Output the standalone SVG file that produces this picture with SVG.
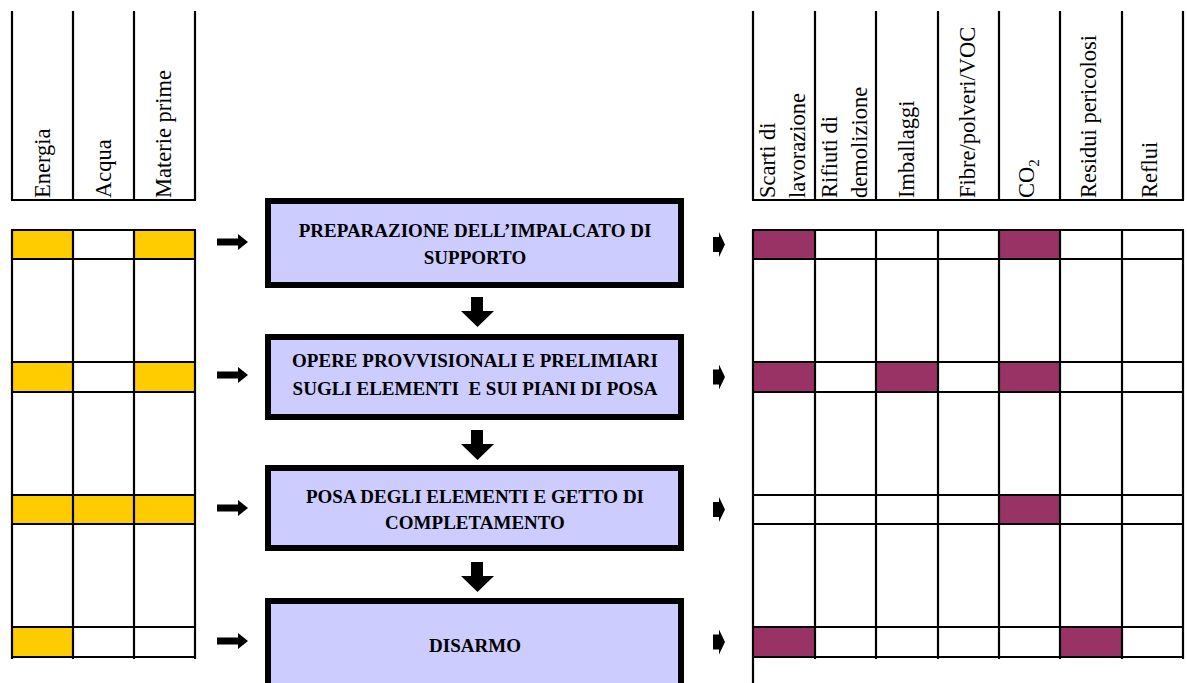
<svg xmlns="http://www.w3.org/2000/svg" width="1187" height="683" viewBox="0 0 1187 683">
<style>
.bg{fill:#ffffff}
.ln{stroke:#000;stroke-width:2.2;fill:none}
.y{fill:#FFCC00}
.p{fill:#993366}
.hd{font-family:"Liberation Serif","Times New Roman",serif;font-size:22.5px;fill:#000}
.box{fill:#CCCCFF;stroke:#000;stroke-width:6}
.bt{font-family:"Liberation Serif","Times New Roman",serif;font-size:19px;font-weight:bold;fill:#000;text-anchor:middle}
.ar{fill:#000}
</style>
<rect class="bg" x="0" y="0" width="1187" height="683"/>

<g id="inputs-header">
  <path class="ln" d="M12 11V200M73 11V200M134 11V200M195 11V200M11 200H196"/>
  <text class="hd" transform="translate(50,198) rotate(-90)">Energia</text>
  <text class="hd" transform="translate(111,198) rotate(-90)">Acqua</text>
  <text class="hd" transform="translate(171,198) rotate(-90)">Materie prime</text>
</g>

<g id="outputs-header">
  <path class="ln" d="M753 11V200M815 11V200M876 11V200M938 11V200M999 11V200M1060 11V200M1122 11V200M1183 11V200M752 200H1184"/>
  <text class="hd" transform="translate(775,198) rotate(-90)">Scarti di</text>
  <text class="hd" transform="translate(805,198) rotate(-90)">lavorazione</text>
  <text class="hd" transform="translate(837,198) rotate(-90)">Rifiuti di</text>
  <text class="hd" transform="translate(867,198) rotate(-90)">demolizione</text>
  <text class="hd" transform="translate(914,198) rotate(-90)">Imballaggi</text>
  <text class="hd" transform="translate(975,198) rotate(-90)">Fibre/polveri/VOC</text>
  <text class="hd" transform="translate(1034,198) rotate(-90)">CO<tspan font-size="15" dy="5">2</tspan></text>
  <text class="hd" transform="translate(1096,198) rotate(-90)">Residui pericolosi</text>
  <text class="hd" transform="translate(1157,198) rotate(-90)">Reflui</text>
</g>

<g id="inputs-table">
  <rect class="y" x="12" y="230" width="61" height="29"/>
  <rect class="y" x="134" y="230" width="61" height="29"/>
  <rect class="y" x="12" y="362" width="61" height="30"/>
  <rect class="y" x="134" y="362" width="61" height="30"/>
  <rect class="y" x="12" y="495" width="183" height="29"/>
  <rect class="y" x="12" y="627" width="61" height="30"/>
  <path class="ln" d="M12 230V659M73 230V659M134 230V659M195 230V659M11 230H196M11 259H196M11 362H196M11 392H196M11 495H196M11 524H196M11 627H196M11 657H196"/>
</g>

<g id="outputs-table">
  <rect class="p" x="753" y="230" width="62" height="29"/>
  <rect class="p" x="999" y="230" width="61" height="29"/>
  <rect class="p" x="753" y="362" width="62" height="30"/>
  <rect class="p" x="876" y="362" width="62" height="30"/>
  <rect class="p" x="999" y="362" width="61" height="30"/>
  <rect class="p" x="999" y="495" width="61" height="29"/>
  <rect class="p" x="753" y="627" width="62" height="30"/>
  <rect class="p" x="1060" y="627" width="62" height="30"/>
  <path class="ln" d="M753 230V683M815 230V659M876 230V659M938 230V659M999 230V659M1060 230V659M1122 230V659M1183 230V659M752 230H1184M752 259H1184M752 362H1184M752 392H1184M752 495H1184M752 524H1184M752 627H1184M752 657H1184"/>
</g>

<g id="step1">
  <rect class="box" x="268" y="201" width="413" height="84"/>
  <text class="bt" x="475" y="237">PREPARAZIONE DELL’IMPALCATO DI</text>
  <text class="bt" x="475" y="264">SUPPORTO</text>
</g>
<g id="step2">
  <rect class="box" x="268" y="337" width="413" height="80"/>
  <text class="bt" x="475" y="367">OPERE PROVVISIONALI E PRELIMIARI</text>
  <text class="bt" x="475" y="395" xml:space="preserve">SUGLI ELEMENTI  E SUI PIANI DI POSA</text>
</g>
<g id="step3">
  <rect class="box" x="268" y="468" width="413" height="80"/>
  <text class="bt" x="475" y="503">POSA DEGLI ELEMENTI E GETTO DI</text>
  <text class="bt" x="475" y="529">COMPLETAMENTO</text>
</g>
<g id="step4">
  <rect class="box" x="268" y="601" width="413" height="100"/>
  <text class="bt" x="475" y="652">DISARMO</text>
</g>

<defs>
  <polygon id="arIn" points="0,-3.5 21,-3.5 21,-8 31,0 21,8 21,3.5 0,3.5"/>
  <polygon id="arOut" points="0,-7.5 6,-7.5 6,-12.5 12,0 6,12.5 6,7.5 0,7.5"/>
  <polygon id="arDn" points="-6,0 6,0 6,14 17,14 0.5,30 -16,14 -6,14"/>
</defs>
<g id="connectors" class="ar">
  <use href="#arIn" x="217" y="242"/>
  <use href="#arIn" x="217" y="375"/>
  <use href="#arIn" x="217" y="508"/>
  <use href="#arIn" x="217" y="641"/>
  <use href="#arOut" x="713" y="244.5"/>
  <use href="#arOut" x="713" y="377"/>
  <use href="#arOut" x="713" y="509.5"/>
  <use href="#arOut" x="713" y="642"/>
  <use href="#arDn" x="477" y="297"/>
  <use href="#arDn" x="477" y="430"/>
  <use href="#arDn" x="477" y="562"/>
</g>
</svg>
